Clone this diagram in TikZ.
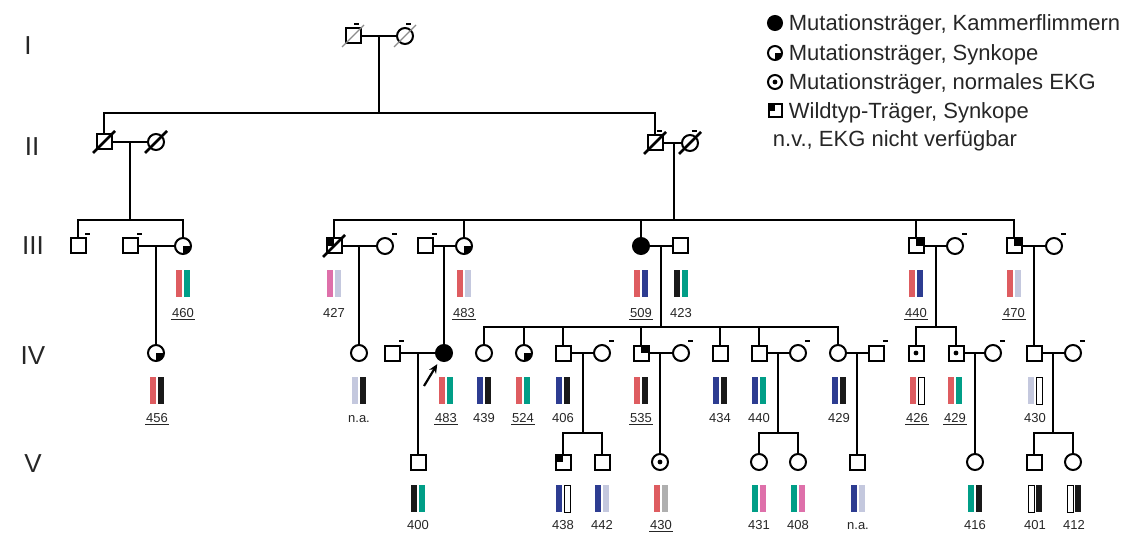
\documentclass[tikz,border=0pt]{standalone}
\usepackage{fontspec}
\setmainfont{Liberation Sans}
\usetikzlibrary{arrows.meta}
\definecolor{cR}{RGB}{222,92,96}
\definecolor{cT}{RGB}{0,158,135}
\definecolor{cB}{RGB}{45,60,145}
\definecolor{cK}{RGB}{25,25,25}
\definecolor{cL}{RGB}{196,200,222}
\definecolor{cP}{RGB}{222,112,170}
\definecolor{cG}{RGB}{175,175,175}
\newcommand\bars[4]{%
  \path[#3] (#1-7,#2) rectangle (#1-1,#2+27);
  \path[#4] (#1+1,#2) rectangle (#1+7,#2+27);}
\newcommand\lab[4]{\node[numlab] (#1) at (#2,#3) {#4};}
\newcommand\ulab[4]{\node[numlab] (#1) at (#2,#3) {#4};
  \draw[line width=1.1pt,black!85] ([yshift=-2.4pt]#1.base west) -- ([yshift=-2.4pt]#1.base east);}
\newcommand\mk[2][7pt]{\draw[line width=1.4pt] ([shift={(#1,12pt)}]#2.center) -- ++(5pt,0pt);}
\newcommand\dec[2][black]{\draw[line width=2.8pt,#1] ([shift={(-11pt,-11pt)}]#2.center) -- ([shift={(11pt,11pt)}]#2.center);}
\begin{document}
\begin{tikzpicture}[x=1pt,y=-1pt,line width=1.8pt,
 sq/.style={draw,rectangle,minimum size=15pt,inner sep=0pt,outer sep=0pt,fill=white,line width=2pt},
 ci/.style={draw,circle,minimum size=16pt,inner sep=0pt,outer sep=0pt,fill=white,line width=2pt},
 aff/.style={fill=black},
 syn/.style={path picture={\fill[black] (path picture bounding box.center) rectangle (path picture bounding box.south east);}},
 wt/.style={path picture={\fill[black] (path picture bounding box.center) rectangle (path picture bounding box.north east);}},
 wtl/.style={path picture={\fill[black] (path picture bounding box.center) rectangle (path picture bounding box.north west);}},
 dotc/.style={path picture={\fill[black] (path picture bounding box.center) circle (2.4pt);}},
 numlab/.style={font=\fontsize{13}{15}\selectfont,inner sep=0pt,anchor=base,text=black!85},
 gen/.style={font=\fontsize{26}{30}\selectfont,anchor=base,text=black!85},
 leg/.style={font=\fontsize{22}{26}\selectfont,anchor=base west,inner sep=0pt,text=black!85},
 bR/.style={fill=cR},bT/.style={fill=cT},bB/.style={fill=cB},bK/.style={fill=cK},
 bL/.style={fill=cL},bP/.style={fill=cP},bG/.style={fill=cG},
 bW/.style={fill=white,draw=black,line width=0.9pt},
 arr/.style={-{Stealth[length=9pt,width=8pt]},line width=2.2pt}]
\useasboundingbox (0,0) rectangle (1126,534);

% generation labels
\node[gen] (gI) at (28,55) {I};
\node[gen] (gII) at (32,156) {II};
\node[gen] (gIII) at (33,255) {III};
\node[gen] (gIV) at (33,364) {IV};
\node[gen] (gV) at (33,472) {V};

% legend
\node[ci,aff,minimum size=14pt] (L1) at (775,23) {};
\node[leg] (T1) at (788,31) {Mutationsträger, Kammerflimmern};
\node[ci,syn,minimum size=14pt] (L2) at (775,53) {};
\node[leg] (T2) at (788,61) {Mutationsträger, Synkope};
\node[ci,dotc,minimum size=14pt] (L3) at (775,82) {};
\node[leg] (T3) at (788,90) {Mutationsträger, normales EKG};
\node[sq,wtl,minimum size=13pt] (L4) at (775,111) {};
\node[leg] (T4) at (788,119) {Wildtyp-Träger, Synkope};
\node[leg] (T5) at (772,147) {n.v., EKG nicht verfügbar};

% generation I
\node[sq] (I1) at (353,36) {};
\node[ci] (I2) at (405,36) {};
% generation II
\node[sq] (II1) at (104,142) {};
\node[ci] (II2) at (156,142) {};
\node[sq] (II3) at (655,143) {};
\node[ci] (II4) at (690,143) {};
% generation III
\node[sq] (III1) at (78,246) {};
\node[sq] (III2) at (130,246) {};
\node[ci,syn] (III3) at (183,246) {};
\node[sq,wtl] (III4) at (334,246) {};
\node[ci] (III5) at (385,246) {};
\node[sq] (III6) at (425,246) {};
\node[ci,syn] (III7) at (464,246) {};
\node[ci,aff] (III8) at (641,246) {};
\node[sq] (III9) at (680,246) {};
\node[sq,wt] (III10) at (916,246) {};
\node[ci] (III11) at (955,246) {};
\node[sq,wt] (III12) at (1014,246) {};
\node[ci] (III13) at (1054,246) {};
% generation IV
\node[ci,syn] (IV1) at (156,353) {};
\node[ci] (IV2) at (359,353) {};
\node[sq] (IV3) at (392,353) {};
\node[ci,aff] (IV4) at (444,353) {};
\node[ci] (IV5) at (484,353) {};
\node[ci,syn] (IV6) at (524,353) {};
\node[sq] (IV7) at (563,353) {};
\node[ci] (IV8) at (602,353) {};
\node[sq,wt] (IV9) at (641,353) {};
\node[ci] (IV10) at (681,353) {};
\node[sq] (IV11) at (720,353) {};
\node[sq] (IV12) at (759,353) {};
\node[ci] (IV13) at (798,353) {};
\node[ci] (IV14) at (838,353) {};
\node[sq] (IV15) at (876,353) {};
\node[sq,dotc] (IV16) at (916,353) {};
\node[sq,dotc] (IV17) at (956,353) {};
\node[ci] (IV18) at (993,353) {};
\node[sq] (IV19) at (1034,353) {};
\node[ci] (IV20) at (1073,353) {};
% generation V
\node[sq] (V1) at (418,462) {};
\node[sq,wtl] (V2) at (563,462) {};
\node[sq] (V3) at (602,462) {};
\node[ci,dotc] (V4) at (660,462) {};
\node[ci] (V5) at (759,462) {};
\node[ci] (V6) at (798,462) {};
\node[sq] (V7) at (857,462) {};
\node[ci] (V8) at (975,462) {};
\node[sq] (V9) at (1034,462) {};
\node[ci] (V10) at (1073,462) {};

% connectors
\coordinate (sII) at (379,113);
\draw (I1) -- (I2);
\draw (sII) -- (sII |- I1);
\draw (II1.north) |- (sII) -| (II3.north);
\draw (II1) -- (II2);
\draw (II3) -- (II4);
\coordinate (sIIIa) at (130,220);
\draw (sIIIa) -- (sIIIa |- II1);
\draw (III1.north) |- (sIIIa) -| (III3.north);
\coordinate (sIIIb) at (674,220);
\draw (sIIIb) -- (sIIIb |- II3);
\draw (III4.north) |- (sIIIb) -| (III12.north);
\draw (III7.north) -- (III7.north |- sIIIb);
\draw (III8.north) -- (III8.north |- sIIIb);
\draw (III10.north) -- (III10.north |- sIIIb);
\draw (III2) -- (III3);
\draw (III4) -- (III5);
\draw (III6) -- (III7);
\draw (III8) -- (III9);
\draw (III10) -- (III11);
\draw (III12) -- (III13);
\draw (IV1.north) -- (IV1 |- III2);
\draw (IV2.north) -- (IV2 |- III4);
\draw (IV4.north) -- (IV4 |- III6);
\draw (IV19.north) -- (IV19 |- III12);
\coordinate (sIVa) at (661,327);
\draw (sIVa) -- (sIVa |- III8);
\draw (IV5.north) |- (sIVa) -| (IV14.north);
\draw (IV6.north) -- (IV6.north |- sIVa);
\draw (IV7.north) -- (IV7.north |- sIVa);
\draw (IV9.north) -- (IV9.north |- sIVa);
\draw (IV11.north) -- (IV11.north |- sIVa);
\draw (IV12.north) -- (IV12.north |- sIVa);
\coordinate (sIVb) at (936,327);
\draw (sIVb) -- (sIVb |- III10);
\draw (IV16.north) |- (sIVb) -| (IV17.north);
\draw (IV3) -- (IV4);
\draw (IV7) -- (IV8);
\draw (IV9) -- (IV10);
\draw (IV12) -- (IV13);
\draw (IV14) -- (IV15);
\draw (IV17) -- (IV18);
\draw (IV19) -- (IV20);
\draw (V1.north) -- (V1 |- IV3);
\draw (V4.north) -- (V4 |- IV9);
\draw (V7.north) -- (V7 |- IV14);
\draw (V8.north) -- (V8 |- IV17);
\coordinate (sVa) at (583,433);
\draw (sVa) -- (sVa |- IV7);
\draw (V2.north) |- (sVa) -| (V3.north);
\coordinate (sVb) at (778,433);
\draw (sVb) -- (sVb |- IV12);
\draw (V5.north) |- (sVb) -| (V6.north);
\coordinate (sVc) at (1053,433);
\draw (sVc) -- (sVc |- IV19);
\draw (V9.north) |- (sVc) -| (V10.north);

% proband arrow
\coordinate (pa) at (424,386);
\draw[arr,shorten >=5pt] (pa) -- (IV4);

% deceased slashes
\dec[black!45,line width=1.2pt]{I1}
\dec[black!45,line width=1.2pt]{I2}
\dec{II1} \dec{II2} \dec{II3} \dec{II4} \dec{III4}

% marks
\mk[1pt]{I1} \mk[1pt]{I2} \mk[2pt]{II3} \mk[2pt]{II4}
\mk{III1} \mk{III2} \mk{III5} \mk{III6} \mk{III11} \mk{III13}
\mk{IV3} \mk{IV8} \mk{IV10} \mk{IV13} \mk{IV15} \mk{IV18} \mk{IV20}

% bars and numbers, generation III
\bars{183}{270}{bR}{bT} \ulab{n460}{183}{317}{460}
\bars{334}{270}{bP}{bL} \lab{n427}{334}{317}{427}
\bars{464}{270}{bR}{bL} \ulab{n483a}{464}{317}{483}
\bars{641}{270}{bR}{bB} \ulab{n509}{641}{317}{509}
\bars{681}{270}{bK}{bT} \lab{n423}{681}{317}{423}
\bars{916}{270}{bR}{bB} \ulab{n440a}{916}{317}{440}
\bars{1014}{270}{bR}{bL} \ulab{n470}{1014}{317}{470}
% generation IV
\bars{157}{377}{bR}{bK} \ulab{n456}{157}{422}{456}
\bars{359}{377}{bL}{bK} \lab{nna1}{359}{422}{n.a.}
\bars{446}{377}{bR}{bT} \ulab{n483b}{446}{422}{483}
\bars{484}{377}{bB}{bK} \lab{n439}{484}{422}{439}
\bars{523}{377}{bR}{bT} \ulab{n524}{523}{422}{524}
\bars{563}{377}{bB}{bK} \lab{n406}{563}{422}{406}
\bars{641}{377}{bR}{bK} \ulab{n535}{641}{422}{535}
\bars{720}{377}{bB}{bK} \lab{n434}{720}{422}{434}
\bars{759}{377}{bB}{bT} \lab{n440b}{759}{422}{440}
\bars{839}{377}{bB}{bK} \lab{n429a}{839}{422}{429}
\bars{917}{377}{bR}{bW} \ulab{n426}{917}{422}{426}
\bars{955}{377}{bR}{bT} \ulab{n429b}{955}{422}{429}
\bars{1035}{377}{bL}{bW} \lab{n430a}{1035}{422}{430}
% generation V
\bars{418}{485}{bK}{bT} \lab{n400}{418}{529}{400}
\bars{563}{485}{bB}{bW} \lab{n438}{563}{529}{438}
\bars{602}{485}{bB}{bL} \lab{n442}{602}{529}{442}
\bars{661}{485}{bR}{bG} \ulab{n430b}{661}{529}{430}
\bars{759}{485}{bT}{bP} \lab{n431}{759}{529}{431}
\bars{798}{485}{bT}{bP} \lab{n408}{798}{529}{408}
\bars{858}{485}{bB}{bL} \lab{nna2}{858}{529}{n.a.}
\bars{975}{485}{bT}{bK} \lab{n416}{975}{529}{416}
\bars{1035}{485}{bW}{bK} \lab{n401}{1035}{529}{401}
\bars{1074}{485}{bW}{bK} \lab{n412}{1074}{529}{412}
\end{tikzpicture}
\end{document}
